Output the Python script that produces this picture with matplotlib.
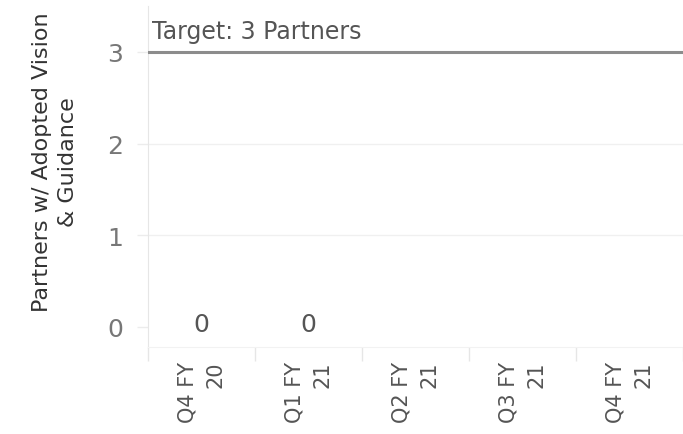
import matplotlib
matplotlib.use("Agg")
from matplotlib import pyplot as plt
import numpy as np

quarters = ["Q4 FY\n20", "Q1 FY\n21", "Q2 FY\n21", "Q3 FY\n21", "Q4 FY\n21"]
partners = [0, 0, None, None, None]
target = 3
target_label = "Target: 3 Partners"
y_ticks = [0, 1, 2, 3]

plt.rcParams["font.family"] = ["DejaVu Sans"]

fig = plt.figure(figsize=(6.83, 4.35), dpi=100)
ax = fig.add_axes([148 / 683, 1 - 348 / 435, 1 - 148 / 683, 341 / 435])

x = np.arange(len(quarters))
ax.set_xlim(-0.5, len(quarters) - 0.5)
ax.set_ylim(-0.22, 3.5)

# value labels
for xi, v in zip(x, partners):
    if v is not None:
        ax.text(xi, v + 0.03, str(v), ha="center", va="center", fontsize=18, color="#555555")

# target line
ax.axhline(target, color="#8c8c8c", lw=2.2, zorder=3)
ax.text(-0.46, target + 0.1, target_label, ha="left", va="bottom",
        fontsize=17, color="#555555")

# grid
for yv in [1, 2]:
    ax.axhline(yv, color="#f0f0f0", lw=1, zorder=0)

ax.set_yticks(y_ticks)
ax.set_yticklabels([str(t) for t in y_ticks])
ax.tick_params(axis="y", length=8, width=1, color="#ececec", pad=10,
               labelsize=18, labelcolor="#777777")

ax.set_xticks(x)
ax.set_xticklabels(quarters, rotation=90, multialignment="right", linespacing=1.55)
ax.tick_params(axis="x", length=0, pad=10, labelsize=15, labelcolor="#555555")
ax.set_xticks(np.arange(len(quarters) + 1) - 0.5, minor=True)
ax.tick_params(axis="x", which="minor", length=10, width=1, color="#e6e6e6", direction="out")

for s in ["top", "right"]:
    ax.spines[s].set_visible(False)
ax.spines["left"].set_color("#e6e6e6")
ax.spines["bottom"].set_color("#f2f2f2")

fig.text(55 / 683, 1 - 162 / 435, "Partners w/ Adopted Vision\n& Guidance", rotation=90,
         ha="center", va="center", multialignment="center", fontsize=16,
         color="#333333", linespacing=1.35)

fig.savefig("out.png", dpi=100)
